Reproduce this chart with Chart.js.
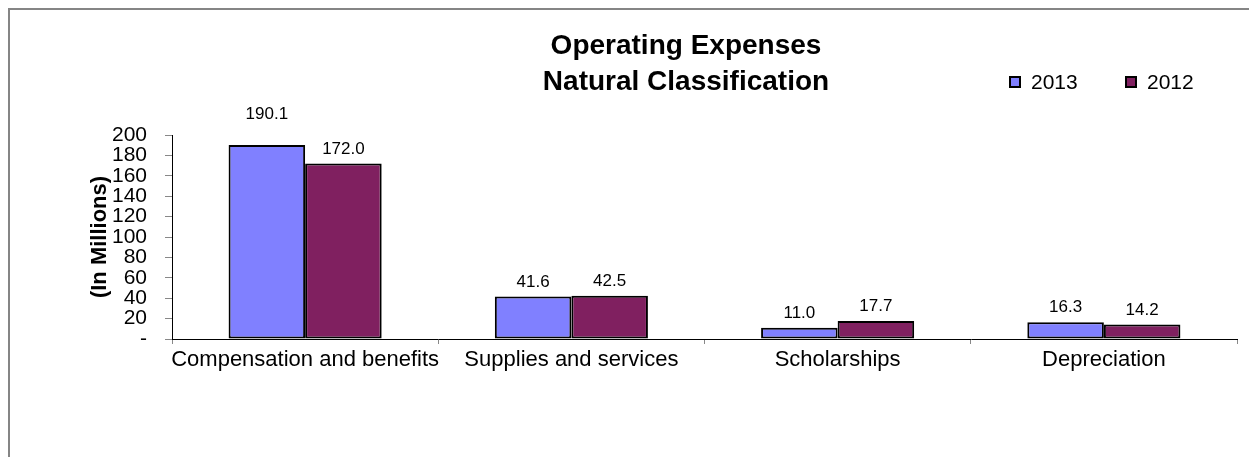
<!DOCTYPE html>
<html>
<head>
<meta charset="utf-8">
<script src="https://cdn.jsdelivr.net/npm/chart.js@4/dist/chart.umd.min.js"></script>
<style>
  html, body { margin: 0; padding: 0; background: #fff; }
  #frame {
    position: absolute; left: 8px; top: 8px; width: 1241px; height: 449px;
    border-top: 2px solid #858585; border-left: 2px solid #858585;
    box-sizing: border-box;
  }
  #wrap { position: absolute; left: 0; top: 0; width: 1249px; height: 457px; }
</style>
</head>
<body>
<div id="frame"></div>
<div id="wrap"><canvas id="barChart"></canvas></div>
<script>
var categories = ["Compensation and benefits", "Supplies and services", "Scholarships", "Depreciation"];
var series2013 = [190.1, 41.6, 11.0, 16.3];
var series2012 = [172.0, 42.5, 17.7, 14.2];
var seriesNames = ["2013", "2012"];
var yTicks = [0, 20, 40, 60, 80, 100, 120, 140, 160, 180, 200];
var titleLines = ["Operating Expenses", "Natural Classification"];

var FONT = "'Liberation Sans', Arial, sans-serif";

// title + legend drawn at the top, labels over the bars
var extras = {
  id: 'extras',
  afterDatasetsDraw: function(chart) {
    var ctx = chart.ctx;
    ctx.save();
    ctx.fillStyle = '#000';
    ctx.textAlign = 'center';
    ctx.textBaseline = 'middle';
    ctx.font = 'bold 28px ' + FONT;
    ctx.fillText(titleLines[0], 686, 46);
    ctx.fillText(titleLines[1], 686, 82);

    // legend
    ctx.font = '21px ' + FONT;
    ctx.textAlign = 'left';
    var lx = [1010, 1126];
    chart.data.datasets.forEach(function(ds, i) {
      ctx.fillStyle = ds.backgroundColor;
      ctx.fillRect(lx[i], 77, 10, 10);
      ctx.strokeStyle = '#000';
      ctx.lineWidth = 2;
      ctx.strokeRect(lx[i], 77, 10, 10);
      ctx.fillStyle = '#000';
      ctx.fillText(ds.label, lx[i] + 21, 83);
    });

    // value labels
    ctx.font = '17px ' + FONT;
    ctx.textAlign = 'center';
    ctx.textBaseline = 'alphabetic';
    chart.data.datasets.forEach(function(ds, i) {
      chart.getDatasetMeta(i).data.forEach(function(bar, j) {
        var lift = bar.y < chart.chartArea.top + 15 ? 26 : 10;
        ctx.fillText(ds.data[j].toFixed(1), bar.x, bar.y - lift);
      });
    });
    ctx.restore();
  }
};

var ctxB = document.getElementById("barChart").getContext('2d');
var myBarChart = new Chart(ctxB, {
  type: 'bar',
  data: {
    labels: categories,
    datasets: [{
      label: seriesNames[0],
      data: series2013,
      backgroundColor: '#8080FF',
      borderColor: '#000',
      borderWidth: 2,
      borderSkipped: false
    }, {
      label: seriesNames[1],
      data: series2012,
      backgroundColor: '#802060',
      borderColor: '#000',
      borderWidth: 2,
      borderSkipped: false
    }]
  },
  options: {
    responsive: true,
    maintainAspectRatio: false,
    animation: false,
    layout: { padding: { top: 135, right: 12, left: 0, bottom: 0 } },
    datasets: { bar: { categoryPercentage: 0.575, barPercentage: 1.0 } },
    plugins: {
      legend: { display: false },
      title: { display: false },
      tooltip: { enabled: false }
    },
    scales: {
      x: {
        offset: true,
        grid: { drawOnChartArea: false, tickLength: 5, color: '#888' },
        border: { color: '#000', width: 1 },
        ticks: { color: '#000', padding: 3, font: { family: FONT, size: 22 }, maxRotation: 0, autoSkip: false },
        afterFit: function(scale) { scale.height = 118; }
      },
      y: {
        min: 0,
        max: 200,
        afterBuildTicks: function(scale) { scale.ticks = yTicks.map(function(v) { return { value: v }; }); },
        grid: { drawOnChartArea: false, tickLength: 7, color: '#888' },
        border: { color: '#000', width: 1 },
        ticks: {
          color: '#000', padding: 18, autoSkip: false, font: { family: FONT, size: 21 },
          callback: function(v) { return v === 0 ? '-' : v; }
        },
        title: {
          display: true, text: '(In Millions)', color: '#000',
          font: { family: FONT, size: 22, weight: 'bold' },
          padding: { top: 87, bottom: 0 }
        },
        afterFit: function(scale) { scale.width = 172; }
      }
    }
  },
  plugins: [extras]
});
</script>
</body>
</html>
